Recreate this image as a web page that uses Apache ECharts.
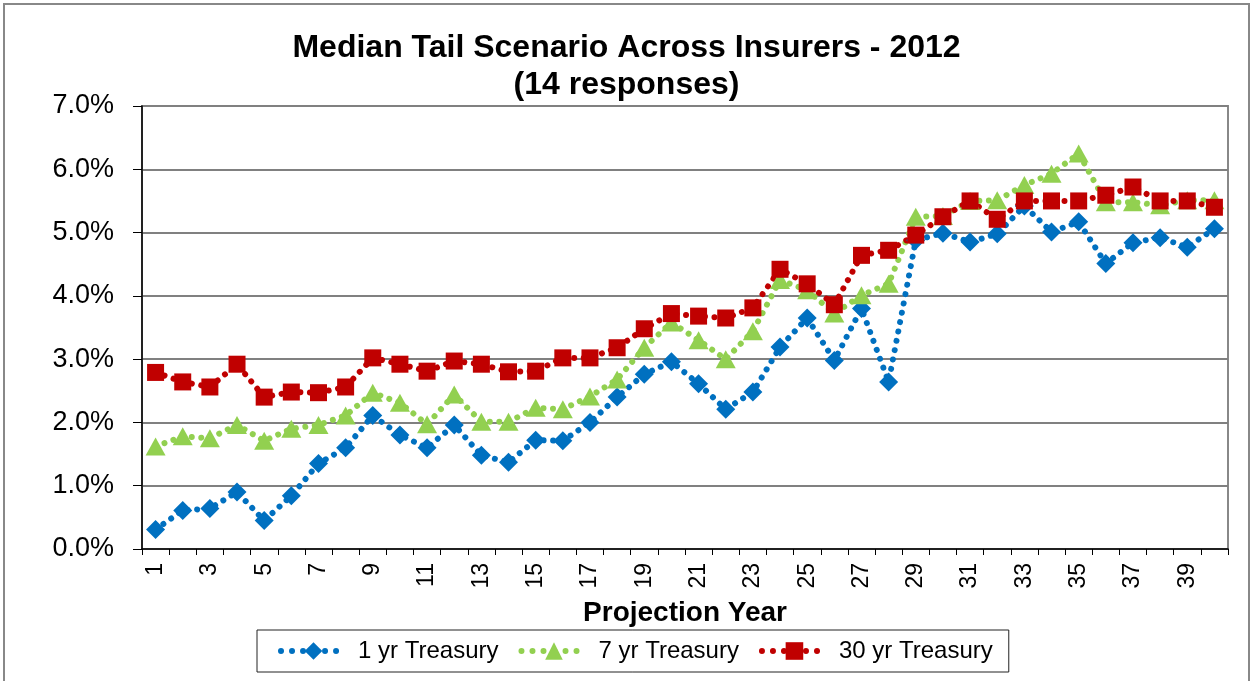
<!DOCTYPE html>
<html>
<head>
<meta charset="utf-8">
<script src="https://cdn.jsdelivr.net/npm/echarts@6/dist/echarts.min.js"></script>
<style>
  html, body { margin: 0; padding: 0; background: #fff; }
  #main { width: 1253px; height: 681px; }
</style>
</head>
<body>
<div id="main"></div>
<script>
  // projection years 1..40
  var years = [];
  for (var i = 1; i <= 40; i++) years.push(String(i));

  // values in percent
  var oneYr = [0.31, 0.61, 0.64, 0.90, 0.45, 0.84, 1.35, 1.60, 2.11, 1.80,
               1.60, 1.96, 1.48, 1.37, 1.72, 1.71, 2.00, 2.40, 2.76, 2.96,
               2.61, 2.21, 2.48, 3.19, 3.65, 2.98, 3.80, 2.64, 4.88, 4.99,
               4.85, 4.98, 5.42, 5.01, 5.17, 4.51, 4.84, 4.92, 4.77, 5.06];
  var sevenYr = [1.62, 1.78, 1.75, 1.96, 1.71, 1.90, 1.96, 2.11, 2.47, 2.31,
                 1.97, 2.44, 2.01, 2.01, 2.23, 2.21, 2.41, 2.68, 3.18, 3.58,
                 3.30, 3.00, 3.44, 4.25, 4.09, 3.72, 4.01, 4.19, 5.25, 5.26,
                 5.50, 5.51, 5.75, 5.93, 6.25, 5.48, 5.48, 5.43, 5.51, 5.51];
  var thirtyYr = [2.79, 2.64, 2.56, 2.92, 2.40, 2.48, 2.47, 2.56, 3.02, 2.92,
                  2.81, 2.97, 2.92, 2.80, 2.81, 3.02, 3.02, 3.18, 3.48, 3.72,
                  3.68, 3.65, 3.81, 4.42, 4.19, 3.86, 4.64, 4.72, 4.96, 5.25,
                  5.50, 5.21, 5.50, 5.50, 5.50, 5.59, 5.72, 5.50, 5.50, 5.40];

  var seriesNames = ['1 yr Treasury', '7 yr Treasury', '30 yr Treasury'];

  var chart = echarts.init(document.getElementById('main'));

  // excel style round-dot line
  function dotted(color) {
    return { color: color, width: 6, type: [0.01, 9.5], cap: 'round' };
  }

  chart.setOption({
    animation: false,
    backgroundColor: '#fff',
    textStyle: { fontFamily: 'Liberation Sans, Arial, sans-serif' },
    graphic: [{
      type: 'rect',
      shape: { x: 4, y: 4, width: 1245, height: 700 },
      style: { fill: 'none', stroke: '#888', lineWidth: 2 },
      silent: true
    }],
    title: {
      text: 'Median Tail Scenario Across Insurers - 2012\n(14 responses)',
      left: 'center',
      top: 25,
      textStyle: {
        fontSize: 32,
        fontWeight: 'bold',
        color: '#000',
        lineHeight: 37,
        fontFamily: 'Liberation Sans, Arial, sans-serif'
      }
    },
    legend: {
      data: seriesNames,
      left: 257,
      top: 630,
      orient: 'horizontal',
      itemWidth: 65,
      itemHeight: 22,
      itemGap: 20,
      padding: [9, 16, 9, 21],
      borderColor: '#222',
      borderWidth: 1,
      lineStyle: { width: 6, type: [0.01, 11], cap: 'round' },
      textStyle: {
        fontSize: 24,
        color: '#000',
        lineHeight: 24,
        padding: [0, 0, 0, 7]
      }
    },
    grid: {
      left: 142,
      right: 25,
      top: 106,
      bottom: 132,
      show: true,
      borderColor: '#888',
      borderWidth: 2
    },
    xAxis: {
      type: 'category',
      data: years,
      boundaryGap: true,
      name: 'Projection Year',
      nameLocation: 'middle',
      nameGap: 50,
      nameTextStyle: { fontSize: 28, fontWeight: 'bold', color: '#000' },
      axisLine: { show: true, lineStyle: { color: '#000', width: 1.5 } },
      axisTick: { show: true, interval: 0, length: 6, lineStyle: { color: '#000' } },
      axisLabel: {
        interval: 1,
        rotate: 90,
        margin: 14,
        fontSize: 23,
        color: '#000'
      },
      splitLine: { show: false }
    },
    yAxis: {
      type: 'value',
      min: 0,
      max: 7,
      interval: 1,
      axisLine: { show: true, lineStyle: { color: '#000', width: 1.5 } },
      axisTick: { show: true, length: 9, lineStyle: { color: '#000' } },
      axisLabel: {
        fontSize: 27,
        color: '#000',
        margin: 28,
        formatter: function (v) { return v.toFixed(1) + '%'; }
      },
      splitLine: { show: true, lineStyle: { color: '#808080', width: 2 } }
    },
    series: [
      {
        name: seriesNames[0],
        type: 'line',
        data: oneYr,
        symbol: 'diamond',
        symbolSize: 19,
        showAllSymbol: true,
        itemStyle: { color: '#0070C0' },
        lineStyle: dotted('#0070C0')
      },
      {
        name: seriesNames[1],
        type: 'line',
        data: sevenYr,
        symbol: 'triangle',
        symbolSize: [20, 18],
        showAllSymbol: true,
        itemStyle: { color: '#92D050' },
        lineStyle: dotted('#92D050')
      },
      {
        name: seriesNames[2],
        type: 'line',
        data: thirtyYr,
        symbol: 'rect',
        symbolSize: 17,
        showAllSymbol: true,
        itemStyle: { color: '#C00000' },
        lineStyle: dotted('#C00000')
      }
    ]
  });
</script>
</body>
</html>
